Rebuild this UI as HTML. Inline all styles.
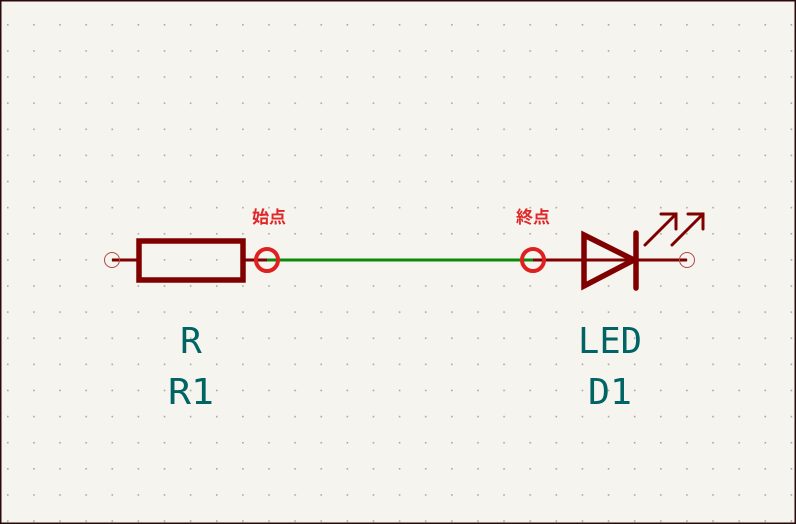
<!DOCTYPE html>
<html><head><meta charset="utf-8"><style>
html,body{margin:0;padding:0;background:#f5f4ef;}
svg{display:block}
</style></head><body>
<svg width="796" height="524" viewBox="0 0 796 524" xmlns="http://www.w3.org/2000/svg">
<defs>
<pattern id="g" x="7" y="24" width="26.12" height="26.12" patternUnits="userSpaceOnUse">
<rect x="0" y="0" width="1.6" height="1.6" fill="#a8a8a8"/>
</pattern>
</defs>
<rect width="796" height="524" fill="#f5f4ef"/>
<rect width="796" height="524" fill="url(#g)"/>
<rect x="0.75" y="0.75" width="794.5" height="522.5" fill="none" stroke="#2a0a0a" stroke-width="1.5"/>
<line x1="112" y1="260" x2="137" y2="260" stroke="#800000" stroke-width="3"/>
<circle cx="112" cy="260" r="7.5" fill="none" stroke="#b04848" stroke-width="1"/>
<rect x="139" y="241" width="104" height="39" fill="none" stroke="#800000" stroke-width="5.5"/>
<line x1="243" y1="260" x2="267" y2="260" stroke="#800000" stroke-width="3"/>
<line x1="267" y1="260" x2="533" y2="260" stroke="#0a8a0a" stroke-width="3"/>
<line x1="533" y1="260" x2="687" y2="260" stroke="#800000" stroke-width="3"/>
<circle cx="687" cy="260" r="7.5" fill="none" stroke="#b04848" stroke-width="1"/>
<polygon points="584,235 584,286 634,260" fill="none" stroke="#800000" stroke-width="5.5" stroke-linejoin="miter"/>
<line x1="636" y1="233" x2="636" y2="288" stroke="#800000" stroke-width="5.5" stroke-linecap="round"/>
<g stroke="#800000" stroke-width="3" fill="none" stroke-linecap="round">
<line x1="645" y1="245" x2="676" y2="214"/>
<polyline points="661,214 676,214 676,229"/>
<line x1="672" y1="245" x2="703" y2="214"/>
<polyline points="688,214 703,214 703,229"/>
</g>
<circle cx="267" cy="260" r="11" fill="none" stroke="#e02020" stroke-width="4"/>
<circle cx="533" cy="260" r="11" fill="none" stroke="#e02020" stroke-width="4"/>
<g font-family="'Noto Sans CJK JP','WenQuanYi Zen Hei',sans-serif" font-weight="bold" font-size="17" fill="#e02828">
<text x="269" y="223" text-anchor="middle">始点</text>
<text x="533" y="223" text-anchor="middle">終点</text>
</g>
<g font-family="'DejaVu Sans Mono','Liberation Mono',monospace" font-size="36" fill="#006464" text-anchor="middle">
<text x="191" y="353" textLength="22">R</text>
<text x="191" y="404" textLength="46" lengthAdjust="spacingAndGlyphs">R1</text>
<text x="610" y="353" textLength="64" lengthAdjust="spacingAndGlyphs">LED</text>
<text x="610" y="404" textLength="44" lengthAdjust="spacingAndGlyphs">D1</text>
</g>
</svg>
</body></html>
